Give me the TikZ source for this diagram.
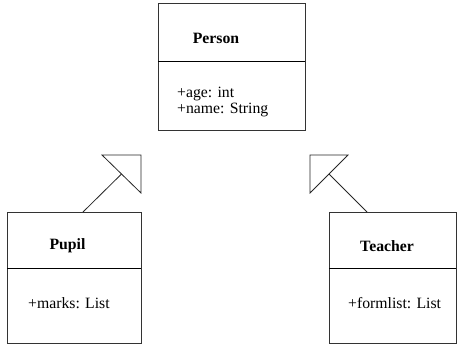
\documentclass[tikz,border=0pt]{standalone}
\usepackage{fontspec}
\setmainfont{Liberation Serif}
\usetikzlibrary{positioning}

\begin{document}
\begin{tikzpicture}[x=1bp, y=-1bp]
    % --- STYLES ---
    \tikzset{
        classbox/.style={draw=black!80, line width=0.8bp},
        classline/.style={draw=black, line width=0.8bp},
        classname/.style={font=\bfseries\fontsize{15.8}{17}\selectfont, inner sep=0pt},
        classattr/.style={font=\fontsize{15.8}{16}\selectfont, align=left, inner sep=0pt, anchor=west},
        genarrow/.style={draw=black!85, line width=0.8bp, line join=miter}
    }
    \useasboundingbox (0,0) rectangle (457,344);

    % PERSON
    \draw[classbox] (158,3) rectangle (305,130);
    \draw[classline] (158,61) -- (305,61);
    \node[classname] (person) at (216,38) {Person};
    \node[classattr] (personattr) at (177,102) {+age: int\\+name: String};

    % PUPIL
    \draw[classbox] (7,212) rectangle (141,343.4);
    \draw[classline] (7,268) -- (141,268);
    \node[classname] (pupil) at (67.5,246) {Pupil};
    \node[classattr] (pupilattr) at (28,303) {+marks: List};

    % TEACHER
    \draw[classbox] (329,212) rectangle (456.4,343.4);
    \draw[classline] (329,268) -- (456.4,268);
    \node[classname] (teacher) at (387,246) {Teacher};
    \node[classattr] (teacherattr) at (348,303) {+formlist: List};

    % GENERALISATION PUPIL
    \coordinate (pupiltop) at (83,212);
    \coordinate (pupiltip) at (121.5,174);
    \draw[genarrow] (pupiltop) -- (pupiltip);
    \draw[genarrow] (102,155) -- (141,155) -- (141,193) -- cycle;

    % GENERALISATION TEACHER
    \coordinate (teachertop) at (367,212);
    \coordinate (teachertip) at (329,174);
    \draw[genarrow] (teachertop) -- (teachertip);
    \draw[genarrow] (348,155) -- (310,155) -- (310,193) -- cycle;
\end{tikzpicture}
\end{document}
